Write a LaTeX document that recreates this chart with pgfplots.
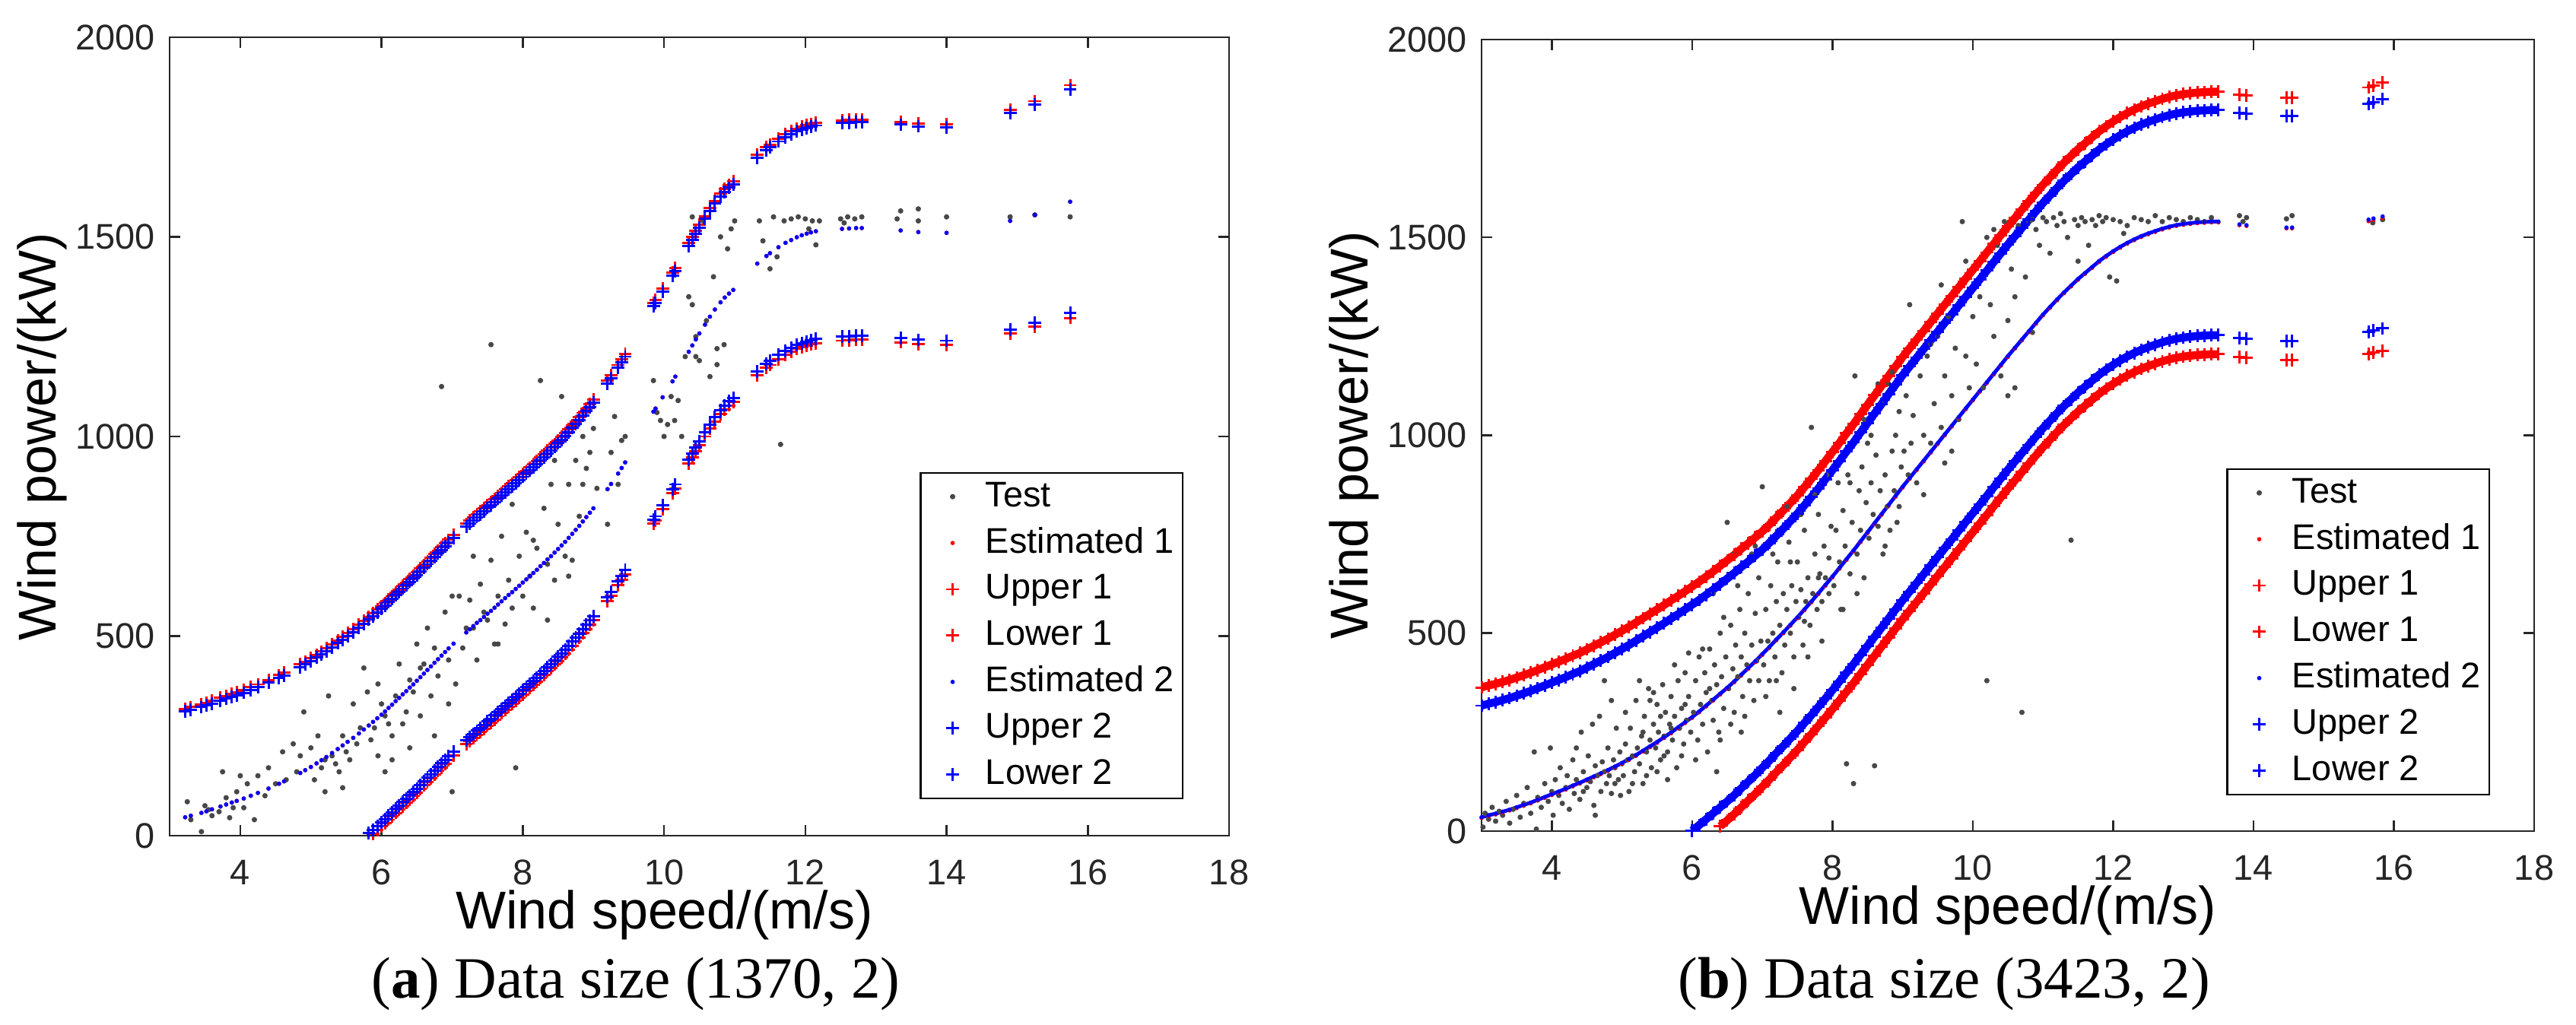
\documentclass[border=0pt]{standalone}
\usepackage{fontspec}
\setmainfont{Liberation Sans}
\newfontfamily\capfont{Liberation Serif}
\usepackage{pgfplots}
\usepackage{pgfplotstable}
\pgfplotsset{compat=1.18}
\definecolor{axisgray}{RGB}{38,38,38}
\definecolor{testgray}{RGB}{72,72,72}

\pgfplotstableread{
x u1 e l1 u2 l2
3.22 318 46 nan 311 nan
3.30 322 50 nan 315 nan
3.45 329 57 nan 322 nan
3.52 333 61 nan 326 nan
3.60 338 66 nan 331 nan
3.72 345 73 nan 338 nan
3.80 350 78 nan 343 nan
3.88 355 83 nan 348 nan
3.95 359 87 nan 352 nan
4.05 365 93 nan 358 nan
4.15 372 100 nan 365 nan
4.25 379 107 nan 372 nan
4.40 390 118 nan 383 nan
4.55 402 130 nan 395 nan
4.62 408 136 nan 401 nan
4.85 429 157 nan 422 nan
4.92 436 164 nan 429 nan
5.00 444 172 nan 437 nan
5.08 453 181 nan 446 nan
5.15 461 189 nan 454 nan
5.22 469 197 nan 462 nan
5.30 479 207 nan 472 nan
5.38 489 217 nan 482 nan
5.45 498 226 nan 491 nan
5.52 507 235 nan 500 nan
5.60 517 245 nan 510 nan
5.68 528 256 nan 521 nan
5.75 538 266 nan 531 nan
5.82 548 276 nan 541 6
5.88 557 285 5 550 15
5.94 566 294 14 559 24
6.00 575 303 23 568 33
6.05 583 311 31 576 41
6.10 592 320 40 585 50
6.15 600 328 48 593 58
6.20 609 337 57 602 67
6.25 617 345 65 610 75
6.30 626 354 74 619 84
6.35 634 362 82 627 92
6.40 643 371 91 636 101
6.45 651 379 99 644 109
6.50 660 388 108 653 118
6.55 669 397 117 662 127
6.60 678 406 126 671 136
6.65 687 415 135 680 145
6.70 696 424 144 689 154
6.75 705 433 153 698 163
6.80 714 442 162 707 172
6.85 723 451 171 716 181
6.90 732 460 180 725 190
6.95 741 469 189 734 199
7.02 753 481 201 746 211
7.20 781 509 229 774 239
7.25 789 517 237 782 247
7.30 797 525 245 790 255
7.35 805 533 253 798 263
7.40 812 540 260 805 270
7.45 820 548 268 813 278
7.50 828 556 276 821 286
7.55 835 563 283 828 293
7.60 843 571 291 836 301
7.65 851 579 299 844 309
7.70 859 587 307 852 317
7.75 867 595 315 860 325
7.80 875 603 323 868 333
7.85 882 610 330 875 340
7.90 890 618 338 883 348
7.95 898 626 346 891 356
8.00 906 634 354 899 364
8.05 914 642 362 907 372
8.10 922 650 370 915 380
8.15 930 658 378 923 388
8.20 938 666 386 931 396
8.25 947 675 395 940 405
8.30 955 683 403 948 413
8.35 964 692 412 957 422
8.40 972 700 420 965 430
8.45 981 709 429 974 439
8.50 990 718 438 983 448
8.55 999 727 447 992 457
8.60 1008 736 456 1001 466
8.65 1018 746 466 1011 476
8.70 1028 756 476 1021 486
8.75 1038 766 486 1031 496
8.80 1048 776 496 1041 506
8.85 1059 787 507 1052 517
8.90 1070 798 518 1063 528
8.95 1081 809 529 1074 539
9.00 1092 820 540 1085 550
9.20 1140 868 588 1133 598
9.25 1153 881 601 1146 611
9.35 1179 907 627 1172 637
9.40 1193 921 641 1186 651
9.45 1207 935 655 1200 665
9.85 1334 1062 782 1327 792
9.88 1342 1070 790 1335 800
9.98 1370 1098 818 1363 828
10.12 1410 1138 858 1403 868
10.16 1422 1150 870 1415 880
10.35 1484 1212 932 1477 942
10.40 1500 1228 948 1493 958
10.45 1515 1243 963 1508 973
10.50 1530 1258 978 1523 988
10.58 1552 1280 1000 1545 1010
10.65 1572 1300 1020 1565 1030
10.72 1590 1318 1038 1583 1048
10.80 1608 1336 1056 1601 1066
10.86 1620 1348 1068 1613 1078
10.92 1630 1358 1078 1623 1088
10.98 1639 1367 1087 1632 1097
11.32 1705 1433 1153 1698 1163
11.45 1724 1452 1172 1717 1182
11.50 1731 1459 1179 1724 1189
11.62 1746 1474 1194 1739 1204
11.72 1757 1485 1205 1750 1215
11.80 1764 1492 1212 1757 1222
11.88 1771 1499 1219 1764 1229
11.95 1776 1504 1224 1769 1234
12.02 1780 1508 1228 1773 1238
12.08 1783 1511 1231 1776 1241
12.15 1786 1514 1234 1779 1244
12.52 1792 1520 1240 1785 1250
12.62 1793 1521 1241 1786 1251
12.72 1794 1522 1242 1787 1252
12.80 1794 1522 1242 1787 1252
13.35 1788 1516 1236 1781 1246
13.60 1784 1512 1232 1777 1242
14.00 1782 1510 1230 1775 1240
14.90 1818 1540 1258 1810 1268
15.25 1840 1555 1275 1832 1284
15.75 1880 1588 1297 1870 1310
}\leftdata

\pgfplotstableread{
x u1 e1 l1 u2 e2 l2
3.0 363 33 nan 317 35 nan
3.1 368 38 nan 322 40 nan
3.2 372 42 nan 326 44 nan
3.3 377 47 nan 331 49 nan
3.4 382 52 nan 336 54 nan
3.5 388 58 nan 342 60 nan
3.6 394 64 nan 348 66 nan
3.7 400 70 nan 354 72 nan
3.8 407 77 nan 361 79 nan
3.9 414 84 nan 368 86 nan
4.0 421 91 nan 375 93 nan
4.1 428 98 nan 382 100 nan
4.2 435 105 nan 389 107 nan
4.3 443 113 nan 397 115 nan
4.4 450 120 nan 404 122 nan
4.5 459 128 nan 413 130 nan
4.6 468 136 nan 422 138 nan
4.7 477 144 nan 431 146 nan
4.8 486 152 nan 440 154 nan
4.9 496 161 nan 450 163 nan
5.0 506 170 nan 460 172 nan
5.1 516 180 nan 470 182 nan
5.2 527 190 nan 481 192 nan
5.3 538 201 nan 492 203 nan
5.4 549 212 nan 503 214 nan
5.5 560 223 nan 514 225 nan
5.6 571 235 nan 525 237 nan
5.7 583 247 nan 537 249 nan
5.8 594 260 nan 548 262 nan
5.9 606 273 nan 560 275 nan
6.0 618 286 nan 572 288 1
6.1 630 300 nan 584 302 15
6.2 643 315 nan 597 317 30
6.3 656 330 nan 610 332 45
6.4 670 345 12 624 347 60
6.5 684 360 27 638 362 75
6.6 698 376 43 652 378 91
6.7 713 393 60 667 395 108
6.8 727 410 77 681 412 125
6.9 742 427 94 696 429 142
7.0 757 445 112 711 447 160
7.1 774 463 130 728 465 178
7.2 792 482 149 746 484 197
7.3 810 500 167 764 502 215
7.4 829 519 186 783 521 234
7.5 848 538 205 802 540 253
7.6 869 558 225 823 560 273
7.7 890 578 245 844 580 293
7.8 912 599 266 866 601 314
7.9 935 620 287 889 622 335
8.0 958 641 308 912 643 356
8.1 981 663 330 935 665 378
8.2 1005 685 352 959 687 400
8.3 1028 707 374 982 709 422
8.4 1053 730 397 1007 732 445
8.5 1077 753 420 1031 755 468
8.6 1101 776 443 1055 778 491
8.7 1125 799 466 1079 801 514
8.8 1150 822 489 1104 824 537
8.9 1174 845 512 1128 847 560
9.0 1198 868 535 1152 870 583
9.1 1220 890 557 1174 892 605
9.2 1242 912 579 1196 914 627
9.3 1264 934 601 1218 936 649
9.4 1286 956 623 1240 958 671
9.5 1308 978 645 1262 980 693
9.6 1330 1000 667 1284 1002 715
9.7 1352 1022 689 1306 1024 737
9.8 1374 1044 711 1328 1046 759
9.9 1396 1066 733 1350 1068 781
10.0 1418 1088 755 1372 1090 803
10.1 1440 1110 777 1394 1112 825
10.2 1462 1132 799 1416 1134 847
10.3 1484 1154 821 1438 1156 869
10.4 1506 1176 843 1460 1178 891
10.5 1528 1198 865 1482 1200 913
10.6 1549 1219 886 1503 1221 934
10.7 1570 1240 907 1524 1242 955
10.8 1591 1261 928 1545 1263 976
10.9 1612 1282 949 1566 1284 997
11.0 1633 1303 970 1587 1305 1018
11.1 1652 1322 989 1606 1324 1037
11.2 1671 1341 1008 1625 1343 1056
11.3 1689 1359 1026 1643 1361 1074
11.4 1706 1376 1043 1660 1378 1091
11.5 1723 1393 1060 1677 1395 1108
11.6 1738 1408 1075 1692 1410 1123
11.7 1753 1423 1090 1707 1425 1138
11.8 1768 1438 1105 1722 1440 1153
11.9 1781 1451 1118 1735 1453 1166
12.0 1793 1463 1130 1747 1465 1178
12.1 1804 1474 1141 1758 1476 1189
12.2 1814 1484 1151 1768 1486 1199
12.3 1823 1493 1160 1777 1495 1208
12.4 1831 1501 1168 1785 1503 1216
12.5 1838 1508 1175 1792 1510 1223
12.6 1844 1514 1181 1798 1516 1229
12.7 1850 1520 1187 1804 1522 1235
12.8 1855 1525 1192 1809 1527 1240
12.9 1859 1529 1196 1813 1531 1244
13.0 1862 1532 1199 1816 1534 1247
13.1 1864 1534 1201 1818 1536 1249
13.2 1866 1536 1203 1820 1538 1251
13.3 1867 1537 1204 1821 1539 1252
13.4 1868 1538 1205 1822 1540 1253
13.5 1868 1538 1205 1822 1540 1253
13.8 1861 1531 1198 1815 1533 1246
13.9 1859 1529 1196 1813 1531 1244
14.47 1853 1523 1190 1807 1525 1238
14.55 1853 1523 1190 1807 1525 1238
15.64 1879 1541 1205 1837 1545 1262
15.71 1883 1544 1210 1842 1548 1265
15.84 1891 1549 1213 1850 1553 1270
}\rightdata

\pgfplotsset{
  panel/.style={
    scale only axis,
    xmin=3, xmax=18, ymin=0, ymax=2000,
    xtick={4,6,...,18}, ytick={0,500,...,2000},
    tick align=inside, tick pos=both,
    major tick length=2pt,
    axis line style={draw=axisgray, line width=0.35pt},
    every tick/.style={draw=axisgray, line width=0.35pt},
    ticklabel style={font=\fontsize{6.7}{8}\selectfont, text=axisgray},
    xticklabel style={inner sep=0pt, yshift=-4.4pt},
    yticklabel style={inner sep=0pt, xshift=-2.6pt},
    /pgf/number format/assume math mode=true,
    /pgf/number format/1000 sep={},
    scaled ticks=false,
    label style={font=\fontsize{8}{9.6}\selectfont, text=axisgray},
    every axis y label/.style={at={(rel axis cs:0,0.5)}, xshift=-21.4pt, rotate=90, anchor=base},
    xlabel={Wind speed/(m/s)},
    ylabel={Wind power/(kW)},
    legend cell align=left,
    legend style={at={(rel axis cs:1,0)}, anchor=south east,
      draw=black, line width=0.35pt, fill=white,
      font=\fontsize{6.7}{8}\selectfont,
      inner xsep=1pt, inner ysep=0.7pt, row sep=1.2pt, column sep=0.6pt,
      nodes={inner sep=0.6pt, text height=5pt, text depth=1.3pt}},
    legend image code/.code={\path[draw=none,fill=none] (0pt,-1pt) rectangle (10pt,1pt);
      \draw[##1,mark repeat=1,mark phase=1] plot coordinates {(5pt,0pt)};},
  },
  testst/.style={only marks, mark=*, color=testgray, mark size=0.42pt, mark options={line width=0.16pt}},
  dotred/.style={only marks, mark=*, color=red, mark size=0.32pt, mark options={line width=0.16pt}},
  dotblue/.style={only marks, mark=*, color=blue, mark size=0.32pt, mark options={line width=0.16pt}},
  plusred/.style={only marks, mark=+, color=red, mark size=1.2pt, mark options={line width=0.42pt}},
  plusblue/.style={only marks, mark=+, color=blue, mark size=1.2pt, mark options={line width=0.42pt}},
  bandred/.style={forget plot, no marks, color=red, line width=1.5pt, restrict x to domain=2.9:13.6},
  bandblue/.style={forget plot, no marks, color=blue, line width=1.5pt, restrict x to domain=2.9:13.6},
}

\begin{document}
\begin{tikzpicture}
\path (0pt,0pt) rectangle (483.857pt,192.571pt);

\begin{axis}[panel,
  at={(31.86pt,35.57pt)}, anchor=south west, width=199pt, height=150pt,
  every axis x label/.style={at={(rel axis cs:0.467,0)}, anchor=base, yshift=-17.5pt},
  legend style={xshift=-8.57pt, yshift=6.86pt}]
\addplot[testst] coordinates {
(3.25,85) (3.3,40) (3.45,10) (3.5,75) (3.55,65) (3.6,50) (3.7,60) (3.75,160) (3.8,95) (3.85,45)
(3.9,70) (3.95,110) (4.0,150) (4.05,70) (4.1,130) (4.2,40) (4.25,150) (4.35,100) (4.4,170) (4.5,130)
(4.6,210) (4.65,140) (4.8,160) (4.85,200) (4.9,310) (5.0,220) (5.05,140) (5.1,250) (5.15,170) (5.2,190)
(5.25,350) (5.3,200) (5.35,180) (5.4,160) (5.45,250) (5.5,210) (5.55,190) (5.6,330) (5.65,230) (5.7,270)
(5.75,420) (5.8,360) (5.85,240) (5.9,270) (5.95,200) (6.0,330) (6.05,300) (6.1,280) (6.15,250) (6.2,350)
(6.25,430) (6.3,280) (6.35,310) (6.4,390) (6.45,360) (6.5,480) (6.55,300) (6.6,430) (6.65,520) (6.7,350)
(6.75,470) (6.8,400) (6.85,1125) (6.9,560) (6.95,440) (7.0,600) (7.05,380) (7.15,470) (7.2,520) (7.25,590)
(7.3,700) (7.35,440) (7.4,630) (7.45,560) (7.5,540) (7.55,1230) (7.55,690) (7.6,480) (7.65,600) (7.7,750)
(7.75,530) (7.8,640) (7.85,570) (7.9,170) (7.95,700) (8.0,600) (8.05,760) (8.1,650) (8.15,570) (8.2,720)
(8.25,1140) (8.3,820) (8.35,680) (8.4,880) (8.45,640) (8.5,780) (8.55,1100) (8.6,700) (8.65,880) (8.7,690)
(8.75,940) (8.8,800) (8.85,880) (8.9,920) (8.95,960) (9.0,1020) (9.05,870) (9.2,780) (9.25,960) (9.3,1050)
(9.35,880) (9.4,990) (9.45,1000) (9.85,1140) (9.9,1060) (9.95,1040) (10.0,1000) (10.1,1100) (10.15,1040) (10.2,1090)
(10.3,1200) (10.35,1350) (10.4,1330) (10.45,1250) (10.5,1190) (10.55,1540) (10.6,1290) (10.65,1150) (10.7,1400) (10.75,1220)
(10.8,1500) (10.85,1230) (10.9,1470) (10.95,1520) (11.0,1540) (11.35,1540) (11.4,1490) (11.5,1420) (11.55,1550) (11.6,1450)
(11.65,980) (11.7,1540) (11.8,1545) (11.9,1550) (12.0,1545) (12.1,1540) (12.15,1480) (12.2,1540) (12.5,1545) (12.55,1535)
(12.6,1550) (12.7,1545) (12.8,1550) (13.3,1545) (13.35,1565) (13.6,1570) (13.6,1540) (14.0,1550) (14.9,1550) (15.25,1555)
(15.75,1550) (12.05,1520) (5.45,120) (5.95,380) (6.15,190) (6.55,420) (6.75,250) (6.95,330) (7.1,600) (7.3,520)
(7.65,480) (7.85,830) (8.15,740) (8.35,540) (8.65,650) (8.85,1000) (6.4,220) (5.2,110) (4.75,230) (6.05,160)
(7.0,110) (8.45,940) (10.4,1550) (10.25,1000) (10.05,1030) (10.75,1180) (10.45,1200)
};
\addplot[dotred] table[x=x,y=e] \leftdata;
\addplot[plusred] table[x=x,y=u1] \leftdata;
\addplot[plusred] table[x=x,y=l1] \leftdata;
\addplot[dotblue] table[x=x,y=e] \leftdata;
\addplot[plusblue] table[x=x,y=u2] \leftdata;
\addplot[plusblue] table[x=x,y=l2] \leftdata;
\legend{Test, Estimated 1, Upper 1, Lower 1, Estimated 2, Upper 2, Lower 2}
\end{axis}

\begin{axis}[panel,
  at={(278.29pt,36.43pt)}, anchor=south west, width=197.71pt, height=148.71pt,
  every axis x label/.style={at={(rel axis cs:0.5,0)}, anchor=base, yshift=-17.5pt},
  legend style={xshift=-8.29pt, yshift=6.71pt}]
\addplot[testst] coordinates {
(3.02,10) (3.05,45) (3.1,30) (3.15,60) (3.2,25) (3.25,50) (3.3,40) (3.35,75) (3.4,20) (3.45,55)
(3.5,90) (3.55,35) (3.6,70) (3.65,110) (3.7,45) (3.75,200) (3.78,5) (3.8,85) (3.85,60) (3.9,120)
(3.95,75) (3.98,210) (4.0,100) (4.02,40) (4.05,130) (4.1,90) (4.12,160) (4.15,70) (4.2,110) (4.22,140)
(4.25,55) (4.3,180) (4.32,95) (4.35,130) (4.4,80) (4.42,250) (4.45,150) (4.5,110) (4.52,190) (4.55,125)
(4.6,65) (4.62,165) (4.65,140) (4.68,290) (4.7,100) (4.72,175) (4.75,150) (4.78,120) (4.8,210) (4.82,140)
(4.85,95) (4.88,180) (4.9,160) (4.92,260) (4.95,130) (4.97,200) (5.0,170) (4.75,380) (4.58,270) (4.35,210)
(4.85,330) (4.62,40) (4.45,100) (4.9,120) (4.98,90) (5.02,140) (5.05,220) (5.08,180) (5.1,100) (5.12,260)
(5.15,190) (5.18,150) (5.2,330) (5.22,210) (5.25,170) (5.28,240) (5.3,120) (5.32,290) (5.35,200) (5.38,360)
(5.4,230) (5.42,160) (5.45,270) (5.48,210) (5.5,320) (5.52,250) (5.55,180) (5.58,370) (5.6,240) (5.62,300)
(5.65,200) (5.68,270) (5.7,340) (5.72,230) (5.75,290) (5.78,160) (5.8,380) (5.82,260) (5.85,310) (5.88,220)
(5.9,400) (5.92,280) (5.95,340) (5.98,250) (5.05,300) (5.15,120) (5.25,380) (5.35,140) (5.45,350) (5.55,290)
(5.65,130) (5.75,420) (5.85,190) (5.95,450) (5.3,250) (5.6,190) (5.9,320) (5.4,330) (5.7,260) (5.5,150)
(6.02,300) (6.05,380) (6.08,230) (6.1,440) (6.12,320) (6.15,270) (6.18,400) (6.2,350) (6.22,200) (6.25,460)
(6.28,330) (6.3,280) (6.32,420) (6.35,370) (6.38,250) (6.4,500) (6.42,390) (6.45,310) (6.48,440) (6.5,780)
(6.52,360) (6.55,520) (6.58,410) (6.6,300) (6.62,470) (6.65,390) (6.68,560) (6.7,440) (6.72,340) (6.75,500)
(6.78,420) (6.8,600) (6.82,380) (6.85,470) (6.88,330) (6.9,550) (6.92,430) (6.95,640) (6.98,480) (7.0,870)
(6.05,180) (6.15,460) (6.25,360) (6.35,150) (6.45,540) (6.55,270) (6.65,620) (6.75,290) (6.85,700) (6.95,380)
(6.3,600) (6.6,700) (6.9,720) (6.4,230) (6.7,250) (7.02,420) (7.05,560) (7.08,480) (7.1,380) (7.12,620)
(7.15,500) (7.18,440) (7.2,580) (7.22,680) (7.25,520) (7.28,400) (7.3,600) (7.32,470) (7.35,560) (7.38,730)
(7.4,500) (7.42,620) (7.45,440) (7.48,580) (7.5,680) (7.52,540) (7.55,610) (7.58,470) (7.6,760) (7.62,580)
(7.65,640) (7.68,520) (7.7,1020) (7.72,600) (7.75,700) (7.78,560) (7.8,800) (7.82,650) (7.85,580) (7.88,720)
(7.9,640) (7.92,900) (7.95,690) (7.98,770) (7.05,340) (7.15,700) (7.25,300) (7.35,820) (7.45,360) (7.55,800)
(7.65,440) (7.75,850) (7.85,480) (7.95,600) (7.4,680) (7.6,530) (7.8,640) (7.2,380) (8.02,620) (8.05,760)
(8.08,880) (8.1,680) (8.12,560) (8.15,810) (8.18,720) (8.2,170) (8.22,900) (8.25,650) (8.28,780) (8.3,120)
(8.32,1150) (8.35,700) (8.38,860) (8.4,760) (8.42,920) (8.45,640) (8.48,830) (8.5,980) (8.52,740) (8.55,880)
(8.58,800) (8.6,165) (8.62,950) (8.65,770) (8.68,860) (8.7,1080) (8.72,700) (8.75,900) (8.78,820) (8.8,1130)
(8.82,760) (8.85,960) (8.88,860) (8.9,1000) (8.92,780) (8.95,1060) (8.98,920) (8.15,560) (8.35,600) (8.55,1000)
(8.75,720) (8.95,820) (8.45,1040) (8.65,1130) (8.25,880) (8.85,1160) (9.02,960) (9.05,1100) (9.08,900) (9.1,1330)
(9.12,980) (9.15,1050) (9.2,880) (9.25,1150) (9.3,1000) (9.35,1200) (9.4,980) (9.45,1080) (9.5,1250) (9.55,1020)
(9.6,1150) (9.65,1300) (9.7,1100) (9.75,1220) (9.8,1040) (9.85,1540) (9.9,1200) (9.95,1120) (10.0,1300) (9.3,850)
(9.55,1380) (9.7,960) (9.9,1440) (9.4,1230) (9.6,930) (10.05,1180) (10.1,1350) (10.15,1120) (10.2,380) (10.25,1330)
(10.3,1250) (10.35,1480) (10.4,1150) (10.45,1540) (10.5,1290) (10.55,1420) (10.6,1120) (10.65,1530) (10.7,300) (10.75,1400)
(10.8,1540) (10.85,1260) (10.9,1520) (10.95,1480) (11.0,1550) (10.3,1520) (10.6,1350) (10.5,1100) (10.2,1500) (10.85,1545)
(11.05,1540) (11.1,1460) (11.15,1550) (11.2,1530) (11.25,1560) (11.3,1540) (11.35,1500) (11.4,735) (11.45,1545) (11.5,1530)
(11.55,1550) (11.6,1540) (11.65,1480) (11.7,1545) (11.75,1530) (11.8,1555) (11.85,1540) (11.9,1550) (11.95,1400) (12.0,1545)
(12.1,1540) (12.2,1530) (12.3,1550) (12.4,1545) (12.5,1540) (12.6,1555) (12.7,1540) (12.8,1550) (12.9,1545) (13.0,1540)
(13.1,1550) (13.2,1545) (13.3,1540) (13.4,1550) (13.8,1555) (13.85,1540) (13.9,1550) (14.47,1547) (14.55,1555) (15.7,1537)
(15.84,1545) (11.5,1440) (12.15,1510) (12.05,1390)
};
\addplot[dotred] table[x=x,y=e1] \rightdata;
\addplot[bandred] table[x=x,y=u1] \rightdata;
\addplot[plusred] table[x=x,y=u1] \rightdata;
\addplot[bandred] table[x=x,y=l1] \rightdata;
\addplot[plusred] table[x=x,y=l1] \rightdata;
\addplot[bandblue, line width=0.7pt] table[x=x,y=e2] \rightdata;
\addplot[dotblue] table[x=x,y=e2] \rightdata;
\addplot[bandblue] table[x=x,y=u2] \rightdata;
\addplot[plusblue] table[x=x,y=u2] \rightdata;
\addplot[bandblue] table[x=x,y=l2] \rightdata;
\addplot[plusblue] table[x=x,y=l2] \rightdata;
\legend{Test, Estimated 1, Upper 1, Lower 1, Estimated 2, Upper 2, Lower 2}
\end{axis}

\node[font=\capfont\fontsize{11}{13}\selectfont, anchor=base, inner sep=0pt] at (119.43pt,5pt) {(\textbf{a}) Data size (1370, 2)};
\node[font=\capfont\fontsize{11}{13}\selectfont, anchor=base, inner sep=0pt] at (365.14pt,5pt) {(\textbf{b}) Data size (3423, 2)};

\pgfresetboundingbox
\useasboundingbox (0pt,0pt) rectangle (483.857pt,192.571pt);
\end{tikzpicture}
\end{document}
